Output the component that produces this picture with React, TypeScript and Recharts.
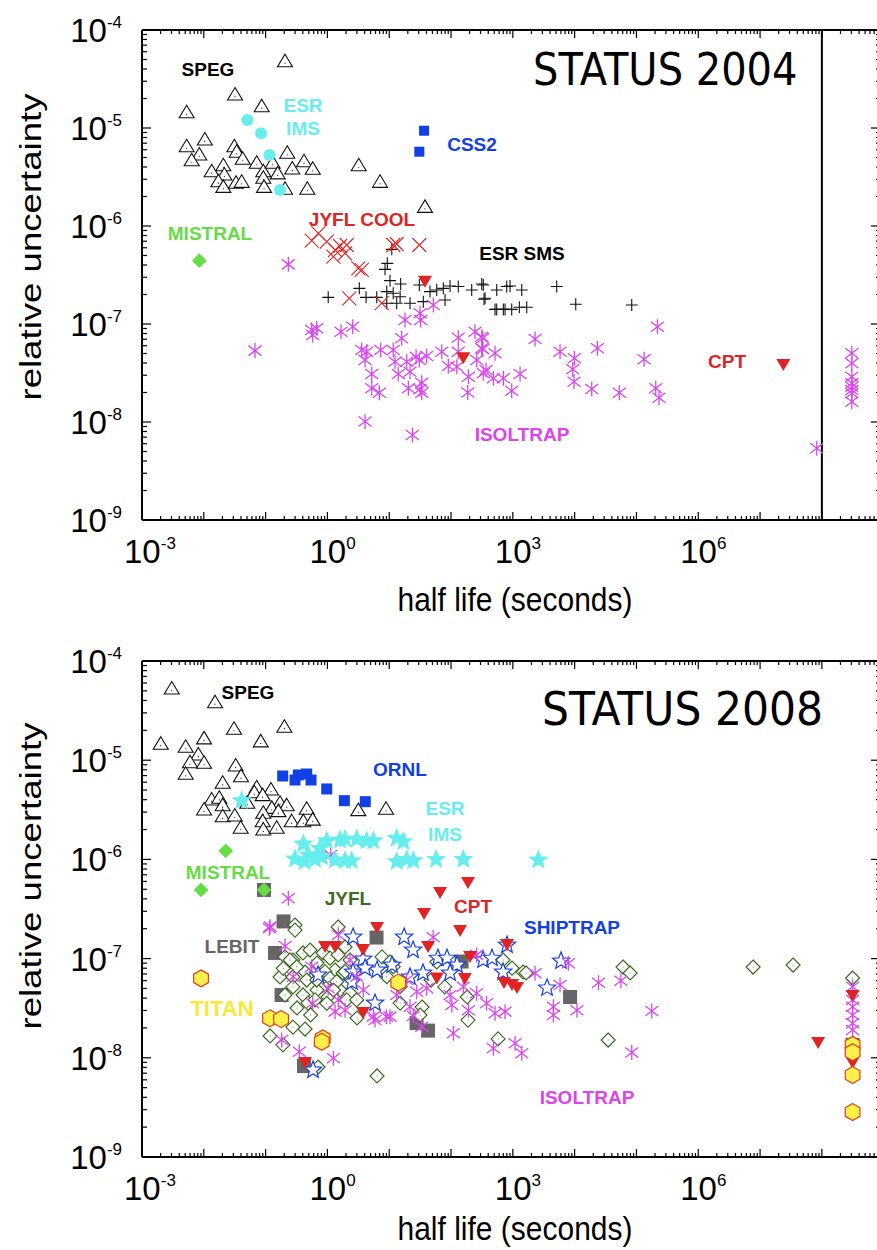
import React from 'react';
import { ScatterChart, Scatter, XAxis, YAxis, ReferenceLine } from 'recharts';

type Pt = [number, number];

const FONT = '"Liberation Sans", Arial, sans-serif';
const X_MIN = 1e-3;
const X_MAX = 8.4e8;
const Y_MIN = 1e-9;
const Y_MAX = 1e-4;

// axis ticks
const xDecades = [-3, -2, -1, 0, 1, 2, 3, 4, 5, 6, 7, 8];
const yDecades = [-9, -8, -7, -6, -5, -4];
const minorSteps = [1, 2, 3, 4, 5, 6, 7, 8, 9];
const xLabelExps = [-3, 0, 3, 6];
const yLabelExps = [-9, -8, -7, -6, -5, -4];

// ---- STATUS 2004 ----
const speg04: Pt[] = [
  [0.206, 4.75e-5], [0.032, 2.17e-5], [0.0865, 1.65e-5], [0.00528, 1.43e-5], [0.0104, 7.55e-6],
  [0.00528, 6.44e-6], [0.00845, 5.3e-6], [0.00637, 4.63e-6], [0.0312, 6.44e-6], [0.034, 5.65e-6],
  [0.0426, 4.8e-6], [0.0134, 3.58e-6], [0.0207, 4.12e-6], [0.0215, 3.31e-6], [0.0172, 2.83e-6],
  [0.0207, 2.48e-6], [0.0332, 2.73e-6], [0.041, 2.79e-6], [0.0718, 4.37e-6], [0.0918, 3.58e-6],
  [0.0918, 3.07e-6], [0.0942, 2.48e-6], [0.13, 4.37e-6], [0.157, 3.4e-6], [0.224, 5.52e-6],
  [0.27, 3.82e-6], [0.418, 4.53e-6], [0.578, 3.79e-6], [0.473, 2.37e-6], [0.206, 2.37e-6],
  [3.21, 4.12e-6], [7.1, 2.79e-6], [37.9, 1.55e-6],
];
const esrIms04: Pt[] = [[0.0506, 1.21e-5], [0.0843, 8.83e-6], [0.115, 5.3e-6], [0.171, 2.33e-6]];
const css2_04: Pt[] = [[36.6, 9.38e-6], [30.7, 5.73e-6]];
const mistral04: Pt[] = [[0.00845, 4.43e-7]];
const jyflCool04: Pt[] = [
  [0.713, 8.43e-7], [0.557, 7.08e-7], [0.975, 6.92e-7], [1.33, 5.69e-7], [1.6, 6.25e-7],
  [2.05, 6.4e-7], [1.25, 4.86e-7], [1.93, 5.26e-7], [3.16, 3.7e-7], [3.59, 3.56e-7],
  [11.6, 6.4e-7], [13.2, 6.55e-7], [30.7, 6.4e-7], [2.26, 1.83e-7], [7.56, 1.63e-7],
];
const esrSms04: Pt[] = [
  [11, 5.78e-7], [9.31, 4.16e-7], [8.55, 3.61e-7], [10.3, 2.77e-7], [15.3, 2.56e-7], [30.7, 2.5e-7],
  [1.03, 1.87e-7], [3.28, 2.31e-7], [4.22, 1.87e-7], [6.28, 1.87e-7], [9.12, 2.14e-7], [11.6, 2.06e-7],
  [15, 1.9e-7], [9.12, 1.63e-7], [13.2, 1.63e-7], [21.7, 1.63e-7], [35.6, 1.69e-7], [45.7, 2.14e-7],
  [58.7, 2.22e-7], [75, 2.31e-7], [96.4, 2.44e-7], [131, 2.41e-7], [80, 1.76e-7], [216, 2.22e-7],
  [314, 2.56e-7], [355, 1.83e-7], [549, 2.22e-7], [796, 2.41e-7], [549, 1.41e-7], [748, 1.41e-7],
  [333, 2.5e-7], [901, 2.44e-7], [1393, 2.22e-7], [342, 1.79e-7], [515, 1.41e-7], [702, 1.41e-7],
  [959, 1.41e-7], [1274, 1.48e-7], [1679, 1.48e-7], [5129, 2.41e-7], [10420, 1.59e-7], [83900, 1.56e-7],
];
const isoltrap04: Pt[] = [
  [0.233, 4.06e-7], [0.0673, 5.35e-8], [0.557, 8.69e-8], [0.671, 9.04e-8], [0.578, 7.73e-8],
  [1.66, 8.34e-8], [2.57, 9.38e-8], [18, 1.1e-7], [31.5, 1.29e-7], [32.3, 1.1e-7], [51.7, 1.56e-7],
  [15.9, 7.14e-8], [3.59, 5.43e-8], [4.32, 5.21e-8], [4.06, 4.3e-8], [7.28, 5.43e-8], [11.6, 5.43e-8],
  [12.4, 4.12e-8], [19.2, 4.12e-8], [27.2, 4.63e-8], [30.7, 4.3e-8], [40.4, 4.71e-8], [70.8, 5.21e-8],
  [90.4, 3.72e-8], [131, 7.24e-8], [131, 5.21e-8], [244, 8.34e-8], [314, 7.41e-8], [314, 5.65e-8],
  [515, 5.02e-8], [261, 4.3e-8], [124, 3.66e-8], [191, 2.9e-8], [333, 3.14e-8], [484, 2.79e-8],
  [702, 2.79e-8], [5.21, 3.09e-8], [14, 3.09e-8], [21.7, 3.26e-8], [33.6, 2.52e-8], [5.21, 2.21e-8],
  [6.92, 1.99e-8], [20.4, 2.21e-8], [31.5, 2.16e-8], [33.6, 1.99e-8], [186, 2.0e-8], [4.06, 1.01e-8],
  [23.7, 7.36e-9], [326, 7.14e-8], [326, 5.52e-8], [368, 3.4e-8], [959, 2.08e-8], [1309, 3.09e-8],
  [2286, 7.03e-8], [5807, 5.21e-8], [9886, 4.47e-8], [9310, 3.45e-8], [9770, 2.58e-8], [23300, 5.65e-8],
  [18900, 2.17e-8], [52900, 1.99e-8], [1.33e5, 4.37e-8], [2.18e5, 9.38e-8], [2.05e5, 2.21e-8],
  [2.32e5, 1.77e-8], [8.26e7, 5.39e-9],
  [3.05e8, 5.02e-8], [3.05e8, 3.97e-8], [3.05e8, 2.9e-8], [3.05e8, 2.48e-8], [3.05e8, 2.29e-8],
  [3.05e8, 2.12e-8], [3.05e8, 1.96e-8], [3.05e8, 1.61e-8],
];
const cpt04: Pt[] = [[37.9, 2.7e-7], [158, 4.47e-8], [2.38e7, 3.82e-8]];

// ---- STATUS 2008 ----
const speg08: Pt[] = [
  [0.00303, 5.22e-5], [0.0152, 3.8e-5], [0.201, 2.15e-5], [0.0308, 2.05e-5], [0.00201, 1.45e-5],
  [0.0101, 1.64e-5], [0.00509, 1.35e-5], [0.00815, 1.13e-5], [0.0834, 1.53e-5], [0.00598, 9.44e-6],
  [0.0101, 9.31e-6], [0.0328, 8.75e-6], [0.00509, 7.21e-6], [0.04, 6.82e-6], [0.0202, 5.85e-6],
  [0.0718, 5.28e-6], [0.122, 5.01e-6], [0.0656, 4.7e-6], [0.0897, 4.39e-6], [0.0134, 3.97e-6],
  [0.0178, 4.13e-6], [0.0202, 3.48e-6], [0.0506, 3.68e-6], [0.0101, 3.15e-6], [0.171, 3.68e-6],
  [0.219, 3.48e-6], [0.126, 3.27e-6], [0.462, 3.2e-6], [0.0202, 2.69e-6], [0.0317, 2.74e-6],
  [0.0918, 2.92e-6], [0.161, 3.03e-6], [0.0897, 2.4e-6], [0.0918, 1.98e-6], [0.264, 2.4e-6],
  [0.407, 2.4e-6], [0.578, 2.49e-6], [0.0395, 2.06e-6], [0.151, 2.06e-6], [3.16, 3.1e-6], [8.87, 3.2e-6],
];
const ornl08: Pt[] = [
  [0.189, 6.93e-6], [0.299, 6.31e-6], [0.338, 7.1e-6], [0.462, 7.26e-6], [0.543, 6.31e-6],
  [0.975, 5.13e-6], [1.88, 3.91e-6], [4.1, 3.82e-6],
];
const esrIms08: Pt[] = [
  [0.041, 3.91e-6], [0.407, 1.43e-6], [0.975, 1.54e-6], [0.759, 1.29e-6], [1.6, 1.57e-6], [1.93, 1.6e-6],
  [2.98, 1.6e-6], [4.32, 1.54e-6], [5.53, 1.54e-6], [13.2, 1.63e-6], [16.9, 1.51e-6], [0.299, 1.01e-6],
  [0.491, 1.11e-6], [0.631, 1.0e-6], [0.809, 1.06e-6], [0.428, 9.48e-7], [1.33, 9.86e-7], [1.93, 9.7e-7],
  [2.47, 9.7e-7], [13.2, 9.48e-7], [19.2, 1.0e-6], [24.5, 9.7e-7], [57.2, 1.0e-6], [158, 1.0e-6],
  [2588, 9.86e-7],
];
const mistral08: Pt[] = [[0.0226, 1.22e-6], [0.00901, 4.92e-7], [0.0942, 4.92e-7]];
const lebit08: Pt[] = [
  [0.0942, 4.92e-7], [0.195, 2.37e-7], [0.142, 1.14e-7], [0.181, 4.3e-8], [6.23, 1.63e-7],
  [1.33, 5.87e-8], [0.418, 8.26e-9], [27.7, 2.24e-8], [42.5, 1.88e-8], [148, 9.35e-8],
  [8430, 4.1e-8], [3.14e8, 1.35e-8],
];
const titan08: Pt[] = [
  [0.00901, 6.32e-8], [0.118, 2.5e-8], [0.178, 2.46e-8], [0.84, 1.57e-8], [0.81, 1.45e-8],
  [14, 5.73e-8], [3.14e8, 1.35e-8], [3.14e8, 1.14e-8], [3.14e8, 6.71e-9], [3.14e8, 2.84e-9],
];
const cpt08: Pt[] = [
  [188, 5.78e-7], [66.4, 4.58e-7], [36.6, 2.82e-7], [140, 1.9e-7], [42.5, 1.31e-7], [805, 1.37e-7],
  [719, 5.68e-8], [970, 5.42e-8], [1169, 5.06e-8], [167, 6.22e-8], [58.9, 6.3e-8], [8.69e7, 1.41e-8],
  [3.14e8, 4.2e-8], [3.14e8, 8.87e-9], [6.35, 2.03e-7], [0.915, 1.31e-7], [1.33, 1.31e-7],
  [3.77, 1.22e-7], [203, 1.04e-7], [3.77, 2.83e-8], [0.434, 8.87e-9],
];
const shiptrap08: Pt[] = [
  [2.6, 1.65e-7], [17.4, 1.65e-7], [24.3, 1.22e-7], [3.77, 9.9e-8], [6.35, 7.67e-8], [2.6, 7.33e-8],
  [4.06, 8.03e-8], [2.5, 5.81e-8], [35.2, 7.16e-8], [61.5, 1.01e-7], [86.1, 1.01e-7], [125, 8.61e-8],
  [96.4, 7.16e-8], [330, 9.68e-8], [460, 1.01e-7], [694, 7.33e-8], [805, 1.37e-7], [6030, 9.46e-8],
  [3580, 5.06e-8], [5.89, 3.56e-8], [0.705, 6.84e-8], [0.585, 7.53e-9], [21.7, 6.53e-8], [11.1, 8.61e-8],
];
const jyfl08: Pt[] = [
  [0.299, 2.18e-7], [0.299, 1.94e-7], [1.49, 2.08e-7], [0.206, 1.04e-7], [0.277, 9.68e-8],
  [0.403, 1.14e-7], [0.523, 1.22e-7], [0.849, 1.14e-7], [1.1, 1.01e-7], [1.49, 1.09e-7], [1.93, 1.31e-7],
  [0.679, 9.03e-8], [0.171, 6.53e-8], [0.277, 6.53e-8], [0.434, 7.33e-8], [1.33, 7.67e-8],
  [1.79, 7.16e-8], [2.32, 9.68e-8], [0.277, 5.18e-8], [0.403, 4.3e-8], [0.679, 4.82e-8], [1.02, 4.1e-8],
  [1.6, 4.82e-8], [2.32, 4.5e-8], [0.322, 3.18e-8], [0.485, 3.56e-8], [0.206, 4.3e-8], [0.277, 2.04e-8],
  [0.434, 1.95e-8], [0.118, 1.66e-8], [0.191, 1.35e-8], [0.705, 8.07e-9], [6.35, 6.56e-9],
  [3.01, 2.52e-8], [7.64, 1.04e-7], [10.3, 9.25e-8], [15, 3.56e-8], [34, 3.25e-8], [31.5, 2.7e-8],
  [182, 4.1e-8], [188, 2.4e-8], [577, 1.55e-8], [1462, 7.33e-8], [694, 9.68e-8], [970, 8.03e-8],
  [58.9, 9.25e-8], [79.3, 5.18e-8], [47.5, 6.08e-8], [1637, 7.16e-8], [34800, 1.51e-8],
  [60700, 8.22e-8], [78900, 7.16e-8], [7.71e6, 8.22e-8], [3.42e7, 8.61e-8], [3.14e8, 6.37e-8],
  [0.745, 6.84e-8], [1.1, 5.5e-8], [0.535, 2.7e-8],
  [0.248, 9.68e-8], [0.318, 8.28e-8], [0.193, 7.98e-8], [0.462, 6.08e-8], [0.671, 6.08e-8],
  [0.915, 7.38e-8], [1.1, 6.32e-8], [1.41, 5.85e-8], [1.93, 7.38e-8], [1.25, 4.82e-8], [0.63, 3.83e-8],
  [0.975, 3.54e-8], [2.05, 3.83e-8], [2.98, 3.83e-8], [11.6, 8.28e-8], [9.12, 6.57e-8], [15, 5.21e-8],
];
const isoltrap08: Pt[] = [
  [0.233, 4.05e-7], [1.13, 1.11e-6], [0.115, 2.02e-7], [0.206, 1.34e-7], [0.557, 8.28e-8],
  [0.28, 6.57e-8], [0.578, 3.54e-8], [0.182, 1.51e-8], [0.351, 1.15e-8], [1.25, 9.89e-9],
  [1.5, 3.83e-8], [1.03, 5.02e-8], [2.32, 9.68e-8], [1.33, 2.92e-8], [1.93, 3.01e-8], [3.81, 4.82e-8],
  [5.89, 2.4e-8], [10.3, 2.6e-8], [13.2, 4.3e-8], [0.118, 2.1e-7], [1.5, 1.73e-7], [51.4, 1.64e-7],
  [259, 1.09e-7], [2.98, 6.57e-8], [5.53, 2.6e-8], [9, 2.6e-8], [19.2, 6.08e-8], [27.9, 4.64e-8],
  [21.7, 3.27e-8], [24.5, 2.64e-8], [33.6, 2.06e-8], [40.4, 5.02e-8], [96.4, 4.3e-8], [103, 3.4e-8],
  [158, 5.21e-8], [259, 4.47e-8], [376, 3.54e-8], [191, 3.01e-8], [515, 2.81e-8], [748, 2.92e-8],
  [109, 1.77e-8], [484, 1.25e-8], [1086, 1.4e-8], [1393, 1.11e-8], [2286, 7.11e-8], [5807, 5.42e-8],
  [4530, 3.27e-8], [4530, 2.7e-8], [7930, 8.97e-8], [24300, 5.71e-8], [56000, 5.98e-8],
  [10900, 3.01e-8], [1.77e5, 2.96e-8], [83900, 1.13e-8],
  [3.14e8, 5.21e-8], [3.14e8, 3.83e-8], [3.14e8, 3.27e-8], [3.14e8, 2.7e-8], [3.14e8, 2.23e-8],
  [3.14e8, 1.91e-8],
];

const toXY = (a: Pt[]) => a.map(([x, y]) => ({ x, y }));

const xTicks = xDecades.flatMap((d) => minorSteps.map((m) => m * 10 ** d)).filter((v) => v <= X_MAX);
const yTicks = yDecades.flatMap((d) => (d === -4 ? [1e-4] : minorSteps.map((m) => m * 10 ** d)));

const isDecade = (v: number) => {
  const e = Math.round(Math.log10(v));
  return Math.abs(v / 10 ** e - 1) < 1e-6;
};

// ---- marker shapes ----
type SP = { cx?: number; cy?: number };

const triUp = ({ cx = 0, cy = 0 }: SP) => (
  <g>
    <path d={`M${cx},${cy - 7.5}L${cx + 7.5},${cy + 5}L${cx - 7.5},${cy + 5}Z`} fill="#fff" stroke="#111" strokeWidth={1.1} />
    <circle cx={cx} cy={cy + 1.5} r={0.6} fill="#111" />
  </g>
);
const triDown = ({ cx = 0, cy = 0 }: SP) => (
  <path d={`M${cx - 7},${cy - 6}L${cx + 7},${cy - 6}L${cx},${cy + 6}Z`} fill="#e02424" />
);
const dot = (color: string, r: number) => ({ cx = 0, cy = 0 }: SP) => <circle cx={cx} cy={cy} r={r} fill={color} />;
const square = (color: string, s: number) => ({ cx = 0, cy = 0 }: SP) => (
  <rect x={cx - s / 2} y={cy - s / 2} width={s} height={s} fill={color} />
);
const diamond = (fill: string, stroke: string, r: number) => ({ cx = 0, cy = 0 }: SP) => (
  <g>
    <path d={`M${cx},${cy - r}L${cx + r},${cy}L${cx},${cy + r}L${cx - r},${cy}Z`} fill={fill} stroke={stroke} strokeWidth={1.2} />
    {fill === '#fff' && <circle cx={cx} cy={cy} r={0.5} fill={stroke} />}
  </g>
);
const cross = ({ cx = 0, cy = 0 }: SP) => (
  <path d={`M${cx - 7},${cy - 7}L${cx + 7},${cy + 7}M${cx - 7},${cy + 7}L${cx + 7},${cy - 7}`} stroke="#e02424" strokeWidth={1.1} fill="none" />
);
const plus = ({ cx = 0, cy = 0 }: SP) => (
  <path d={`M${cx - 6},${cy}H${cx + 6}M${cx},${cy - 6}V${cy + 6}`} stroke="#111" strokeWidth={1.1} fill="none" />
);
const aster = ({ cx = 0, cy = 0 }: SP) => (
  <path
    d={`M${cx},${cy - 7.5}V${cy + 7.5}M${cx - 6.5},${cy - 5}L${cx + 6.5},${cy + 5}M${cx - 6.5},${cy + 5}L${cx + 6.5},${cy - 5}`}
    stroke="#d946ef"
    strokeWidth={1.3}
    fill="none"
  />
);
const polyPath = (cx: number, cy: number, n: number, rOut: number, rIn: number | null) => {
  const pts: string[] = [];
  const count = rIn === null ? n : n * 2;
  for (let i = 0; i < count; i++) {
    const a = -Math.PI / 2 + (i * 2 * Math.PI) / count;
    const r = rIn === null || i % 2 === 0 ? rOut : rIn;
    pts.push(`${(cx + r * Math.cos(a)).toFixed(2)},${(cy + r * Math.sin(a)).toFixed(2)}`);
  }
  return `M${pts.join('L')}Z`;
};
const star = (fill: string, stroke: string) => ({ cx = 0, cy = 0 }: SP) => (
  <path d={polyPath(cx, cy, 5, 9, 3.9)} fill={fill} stroke={stroke} strokeWidth={1.2} />
);
const hexagon = ({ cx = 0, cy = 0 }: SP) => (
  <path d={polyPath(cx, cy, 6, 8.5, null)} fill="#fff04a" stroke="#e0401e" strokeWidth={1.2} />
);

// ---- ticks ----
const XTick = (props: any, plotH: number) => {
  const { x, y, payload } = props;
  const v = payload.value as number;
  const major = isDecade(v);
  const e = Math.round(Math.log10(v));
  const len = major ? 8 : 4;
  const top = y - plotH;
  return (
    <g>
      <line x1={x} y1={y} x2={x} y2={y - len} stroke="#000" strokeWidth={1.2} />
      <line x1={x} y1={top} x2={x} y2={top + len} stroke="#000" strokeWidth={1.2} />
      {major && xLabelExps.includes(e) && (
        <text x={x - 18} y={y + 43} fontSize={33} fontFamily={FONT} fill="#000">
          10<tspan dy={-14} fontSize={17}>{String(e)}</tspan>
        </text>
      )}
    </g>
  );
};

const YTick = (props: any, plotW: number) => {
  const { x, y, payload } = props;
  const v = payload.value as number;
  const major = isDecade(v);
  const e = Math.round(Math.log10(v));
  const len = major ? 9 : 5;
  const rlen = major ? 8 : 3;
  const right = x + plotW;
  return (
    <g>
      <line x1={x} y1={y} x2={x + len} y2={y} stroke="#000" strokeWidth={1.2} />
      <line x1={right} y1={y} x2={right - rlen} y2={y} stroke="#000" strokeWidth={1.2} />
      {major && yLabelExps.includes(e) && (
        <text x={x - 20} y={y + 12} fontSize={33} fontFamily={FONT} fill="#000" textAnchor="end">
          10<tspan dy={-14} fontSize={17}>{String(e)}</tspan>
        </text>
      )}
    </g>
  );
};

const CHART_W = 900;
const PLOT_LEFT = 142;
const PLOT_RIGHT = 879;
const PLOT_W = PLOT_RIGHT - PLOT_LEFT;

function Panel({ height, children, divider }: { height: number; children: React.ReactNode; divider?: boolean }) {
  const plotH = height - 30 - 100;
  return (
    <ScatterChart width={CHART_W} height={height} margin={{ top: 30, right: CHART_W - PLOT_RIGHT, bottom: 0, left: 0 }}>
      <XAxis
        dataKey="x"
        type="number"
        scale="log"
        domain={[X_MIN, X_MAX]}
        allowDataOverflow
        ticks={xTicks}
        interval={0}
        tickSize={0}
        tickMargin={0}
        tickLine={false}
        height={100}
        axisLine={{ stroke: '#000', strokeWidth: 2 }}
        tick={(p: any) => XTick(p, plotH)}
      />
      <YAxis
        dataKey="y"
        type="number"
        scale="log"
        domain={[Y_MIN, Y_MAX]}
        allowDataOverflow
        ticks={yTicks}
        interval={0}
        tickSize={0}
        tickMargin={0}
        tickLine={false}
        width={PLOT_LEFT}
        axisLine={{ stroke: '#000', strokeWidth: 2 }}
        tick={(p: any) => YTick(p, PLOT_W)}
      />
      <ReferenceLine y={Y_MAX} stroke="#000" strokeWidth={2} />
      {divider && <ReferenceLine x={1e8} stroke="#000" strokeWidth={2} />}
      {children}
    </ScatterChart>
  );
}

const Label = ({ x, y, text, color, size = 19 }: { x: number; y: number; text: string; color: string; size?: number }) => (
  <text x={x} y={y + size * 0.36} textAnchor="middle" fontSize={size} fontWeight="bold" fontFamily={FONT} fill={color}>
    {text}
  </text>
);

const CYAN = '#66eeee';
const BLUE = '#1240e6';
const RED = '#e02424';
const GREEN = '#66dd44';
const MAGENTA = '#dd44ee';

export default function App() {
  return (
    <div style={{ position: 'absolute', left: 0, top: 0, width: 877, height: 1250, overflow: 'hidden', background: '#fff' }}>
      <div style={{ position: 'absolute', left: 0, top: 0 }}>
        <Panel height={620} divider>
          <Scatter data={toXY(speg04)} shape={triUp} isAnimationActive={false} />
          <Scatter data={toXY(esrIms04)} shape={dot(CYAN, 6)} isAnimationActive={false} />
          <Scatter data={toXY(css2_04)} shape={square(BLUE, 10)} isAnimationActive={false} />
          <Scatter data={toXY(mistral04)} shape={diamond(GREEN, GREEN, 6.5)} isAnimationActive={false} />
          <Scatter data={toXY(esrSms04)} shape={plus} isAnimationActive={false} />
          <Scatter data={toXY(jyflCool04)} shape={cross} isAnimationActive={false} />
          <Scatter data={toXY(isoltrap04)} shape={aster} isAnimationActive={false} />
          <Scatter data={toXY(cpt04)} shape={triDown} isAnimationActive={false} />
        </Panel>
      </div>
      <div style={{ position: 'absolute', left: 0, top: 631 }}>
        <Panel height={626}>
          <Scatter data={toXY(lebit08)} shape={square('#666666', 14)} isAnimationActive={false} />
          <Scatter data={toXY(jyfl08)} shape={diamond('#fff', '#3d6b22', 7)} isAnimationActive={false} />
          <Scatter data={toXY(shiptrap08)} shape={star('#fff', '#1a3fe6')} isAnimationActive={false} />
          <Scatter data={toXY(isoltrap08)} shape={aster} isAnimationActive={false} />
          <Scatter data={toXY(cpt08)} shape={triDown} isAnimationActive={false} />
          <Scatter data={toXY(titan08)} shape={hexagon} isAnimationActive={false} />
          <Scatter data={toXY(speg08)} shape={triUp} isAnimationActive={false} />
          <Scatter data={toXY(ornl08)} shape={square(BLUE, 11)} isAnimationActive={false} />
          <Scatter data={toXY(esrIms08)} shape={star(CYAN, CYAN)} isAnimationActive={false} />
          <Scatter data={toXY(mistral08)} shape={diamond(GREEN, GREEN, 6.5)} isAnimationActive={false} />
        </Panel>
      </div>
      <svg style={{ position: 'absolute', left: 0, top: 0, pointerEvents: 'none' }} width={877} height={1250}>
        {/* panel titles */}
        <text x={533} y={85} fontSize={40} fontFamily='"DejaVu Sans", sans-serif' fill="#000" transform="translate(0,85) scale(1,1.1) translate(0,-85)">
          STATUS 2004
        </text>
        <text x={542} y={725} fontSize={42.5} fontFamily='"DejaVu Sans", sans-serif' fill="#000" transform="translate(0,725) scale(1,1.1) translate(0,-725)">
          STATUS 2008
        </text>

        {/* axis titles */}
        <text transform="translate(515,611) scale(1,1.12)" textAnchor="middle" fontSize={30} fontFamily={FONT} fill="#000">
          half life (seconds)
        </text>
        <text transform="translate(515,1240) scale(1,1.12)" textAnchor="middle" fontSize={30} fontFamily={FONT} fill="#000">
          half life (seconds)
        </text>
        <text transform="translate(41,247) rotate(-90) scale(1.22,1)" textAnchor="middle" fontSize={30} fontFamily={FONT} fill="#000">
          relative uncertainty
        </text>
        <text transform="translate(41,876) rotate(-90) scale(1.22,1)" textAnchor="middle" fontSize={30} fontFamily={FONT} fill="#000">
          relative uncertainty
        </text>

        {/* 2004 labels */}
        <Label x={208} y={69} text="SPEG" color="#000" />
        <Label x={303} y={105} text="ESR" color={CYAN} />
        <Label x={303} y={128} text="IMS" color={CYAN} />
        <Label x={472} y={144} text="CSS2" color={BLUE} />
        <Label x={362} y={219} text="JYFL COOL" color={RED} />
        <Label x={210} y={233} text="MISTRAL" color={GREEN} />
        <Label x={522} y={253} text="ESR SMS" color="#000" />
        <Label x={727} y={361} text="CPT" color={RED} />
        <Label x={522} y={434} text="ISOLTRAP" color={MAGENTA} />

        {/* 2008 labels */}
        <Label x={248} y={692} text="SPEG" color="#000" />
        <Label x={400} y={769} text="ORNL" color={BLUE} />
        <Label x={445} y={808} text="ESR" color={CYAN} />
        <Label x={445} y={834} text="IMS" color={CYAN} />
        <Label x={228} y={872} text="MISTRAL" color={GREEN} />
        <Label x={348} y={898} text="JYFL" color="#3d6b22" />
        <Label x={473} y={906} text="CPT" color={RED} />
        <Label x={572} y={927} text="SHIPTRAP" color={BLUE} />
        <Label x={232} y={946} text="LEBIT" color="#666666" />
        <Label x={222} y={1008} text="TITAN" color="#f7e83a" size={22} />
        <Label x={587} y={1097} text="ISOLTRAP" color={MAGENTA} />
      </svg>
    </div>
  );
}
